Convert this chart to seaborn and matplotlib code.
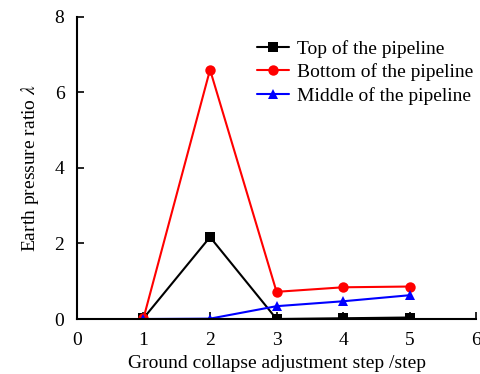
import matplotlib
matplotlib.use("Agg")
import matplotlib.pyplot as plt
import seaborn as sns
import pandas as pd

steps = [1, 2, 3, 4, 5]
top = [0.02, 2.17, 0.0, 0.02, 0.04]
bottom = [0.02, 6.6, 0.72, 0.84, 0.86]
middle = [0.0, 0.01, 0.34, 0.47, 0.63]
series_names = ["Top of the pipeline", "Bottom of the pipeline", "Middle of the pipeline"]
colors = ["black", "red", "blue"]
markers = ["s", "o", "^"]

sns.set_style("ticks")
plt.rcParams["font.family"] = ["Liberation Serif", "DejaVu Serif"]
plt.rcParams["mathtext.fontset"] = "stix"
for k in ["text.color", "axes.labelcolor", "xtick.color", "ytick.color", "axes.edgecolor"]:
    plt.rcParams[k] = "black"

df = pd.DataFrame({
    "step": steps * 3,
    "value": top + bottom + middle,
    "series": [series_names[0]] * 5 + [series_names[1]] * 5 + [series_names[2]] * 5,
})

fig = plt.figure(figsize=(4.81, 3.74), dpi=100)
ax = fig.add_axes([0.160, 0.147, 0.830, 0.808])
sns.lineplot(data=df, x="step", y="value", hue="series", style="series",
             palette=colors, markers=markers, dashes=False, markersize=7.5,
             markeredgewidth=0, linewidth=1.5, ax=ax)

ax.set_xlim(0, 6)
ax.set_ylim(0, 8)
ax.set_xticks([0, 1, 2, 3, 4, 5, 6])
ax.set_yticks([0, 2, 4, 6, 8])
ax.tick_params(direction="in", length=5, width=1.2, labelsize=14, pad=9)
for s in ["left", "bottom"]:
    ax.spines[s].set_linewidth(1.5)
sns.despine(ax=ax)
ax.set_xlabel("Ground collapse adjustment step /step", fontsize=14, labelpad=5)
ax.set_ylabel(r"Earth pressure ratio $\lambda$", fontsize=14, labelpad=10)
ax.legend(frameon=False, loc="upper right", bbox_to_anchor=(1.012, 0.95),
          fontsize=14, handlelength=1.65, handletextpad=0.4, labelspacing=0.3,
          borderaxespad=0.0)

fig.savefig("out.png", dpi=100)
